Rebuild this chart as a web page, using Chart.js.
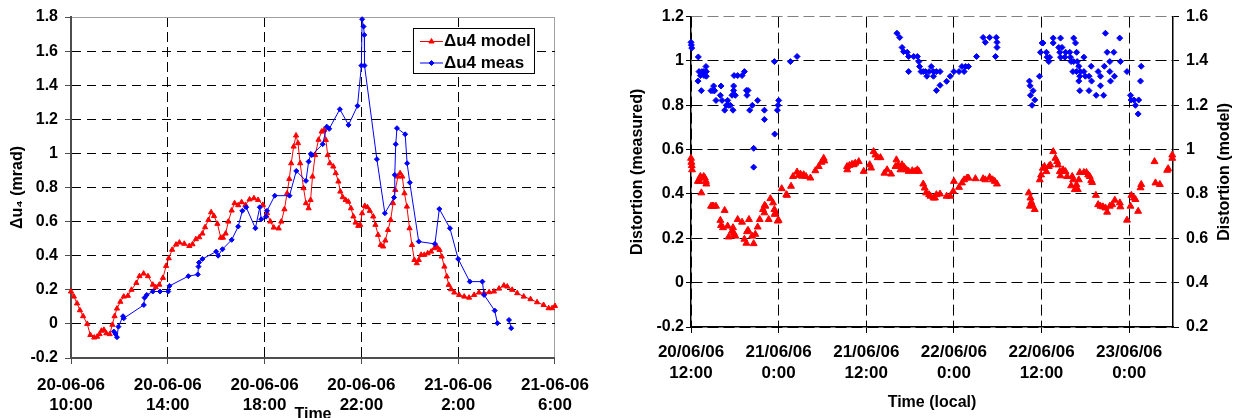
<!DOCTYPE html>
<html>
<head>
<meta charset="utf-8">
<title>Δu4 model / meas and distortion</title>
<script src="https://cdn.jsdelivr.net/npm/chart.js@4.4.0/dist/chart.umd.min.js"></script>
<style>
  html, body { margin: 0; padding: 0; background: #fff; }
  #wrap { position: relative; width: 1237px; height: 418px; overflow: hidden; }
  #leftChart { position: absolute; left: 0; top: 0; }
  #rightChart { position: absolute; left: 615px; top: 0; }
</style>
</head>
<body>
<div id="wrap">
  <canvas id="leftChart" width="600" height="418"></canvas>
  <canvas id="rightChart" width="622" height="418"></canvas>
</div>
<script>
// ---------- Left panel data (hours after 20-06-06 10:00) ----------
const modelTime = [0, 0.12, 0.25, 0.37, 0.5, 0.67, 0.8, 0.96, 1.08, 1.18, 1.26, 1.36, 1.46, 1.6, 1.71, 1.8, 1.9, 2.04, 2.18, 2.35,
  2.5, 2.7, 2.83, 3.0, 3.18, 3.38, 3.5, 3.65, 3.8, 3.93, 4.04, 4.18, 4.34, 4.48, 4.68, 4.89, 5.02, 5.16, 5.3, 5.43,
  5.54, 5.68, 5.79, 5.91, 6.05, 6.19, 6.28, 6.39, 6.5, 6.64, 6.76, 6.91, 7.05, 7.21, 7.38, 7.56, 7.73, 7.93, 8.1, 8.24,
  8.38, 8.58, 8.69, 8.82, 8.93, 9.02, 9.1, 9.2, 9.3, 9.38, 9.47, 9.61, 9.71, 9.82, 9.9, 9.98, 10.09, 10.23, 10.36, 10.46,
  10.53, 10.61, 10.7, 10.84, 10.94, 11.05, 11.13, 11.23, 11.35, 11.46, 11.57, 11.67, 11.76, 11.87, 11.95, 12.03, 12.14, 12.25, 12.35, 12.49,
  12.58, 12.69, 12.8, 12.9, 12.99, 13.1, 13.21, 13.31, 13.4, 13.51, 13.6, 13.69, 13.78, 13.88, 13.99, 14.09, 14.19, 14.29, 14.37, 14.47,
  14.6, 14.74, 14.88, 15.02, 15.13, 15.23, 15.32, 15.43, 15.53, 15.61, 15.71, 15.84, 16.04, 16.25, 16.45, 16.66, 16.86, 17.07, 17.28, 17.48,
  17.69, 17.89, 18.03, 18.23, 18.44, 18.71, 18.99, 19.26, 19.53, 19.74, 19.88, 20.0];
const modelU4 = [0.19, 0.16, 0.12, 0.08, 0.045, 0.0, -0.065, -0.08, -0.075, -0.06, -0.04, -0.035, -0.055, -0.06, -0.005, 0.045, 0.09, 0.13, 0.16, 0.165,
  0.2, 0.24, 0.28, 0.295, 0.28, 0.23, 0.215, 0.23, 0.27, 0.34, 0.385, 0.435, 0.465, 0.477, 0.47, 0.457, 0.467, 0.497, 0.508, 0.53,
  0.567, 0.61, 0.655, 0.633, 0.587, 0.506, 0.506, 0.53, 0.6, 0.665, 0.708, 0.696, 0.714, 0.698, 0.73, 0.737, 0.727, 0.698, 0.65, 0.6,
  0.565, 0.56, 0.6, 0.672, 0.766, 0.85, 0.942, 1.04, 1.105, 1.06, 0.942, 0.796, 0.708, 0.678, 0.727, 0.864, 0.99, 1.08, 1.128, 1.138,
  1.079, 0.99, 0.942, 0.923, 0.884, 0.835, 0.776, 0.743, 0.727, 0.717, 0.678, 0.63, 0.594, 0.575, 0.581, 0.649, 0.692, 0.684, 0.663, 0.63,
  0.581, 0.522, 0.463, 0.454, 0.489, 0.551, 0.61, 0.708, 0.786, 0.864, 0.884, 0.864, 0.766, 0.688, 0.561, 0.463, 0.375, 0.356, 0.375, 0.405,
  0.405, 0.414, 0.424, 0.444, 0.45, 0.434, 0.395, 0.336, 0.278, 0.229, 0.203, 0.184, 0.17, 0.16, 0.154, 0.17, 0.184, 0.18, 0.186, 0.19,
  0.207, 0.225, 0.219, 0.2, 0.18, 0.16, 0.145, 0.127, 0.111, 0.092, 0.092, 0.105];

const measTime = [1.77, 1.84, 1.9, 1.96, 2.15, 2.18, 3.01, 3.04, 3.13, 3.38, 3.68, 4.02, 4.07, 4.85, 5.24, 5.27, 5.29, 5.43, 6.0, 6.08,
  6.26, 6.64, 6.91, 7.08, 7.24, 7.62, 7.8, 7.86, 8.06, 8.1, 8.42, 9.03, 9.31, 9.71, 9.82, 9.91, 9.95, 10.4, 10.57, 10.67,
  11.11, 11.47, 11.84, 12.0, 12.03, 12.09, 12.12, 12.13, 12.64, 12.97, 13.35, 13.38, 13.42, 13.47, 13.81, 13.89, 14.0, 14.37, 15.04, 15.22,
  15.66, 16.0, 16.48, 17.0, 17.07, 17.51, 17.62, 17.85, 18.1, 18.19];
const measU4 = [-0.045, -0.059, -0.078, -0.016, 0.045, 0.033, 0.111, 0.154, 0.17, 0.19, 0.19, 0.19, 0.223, 0.28, 0.29, 0.336, 0.36, 0.381, 0.424, 0.4,
  0.438, 0.493, 0.571, 0.663, 0.684, 0.561, 0.684, 0.614, 0.629, 0.663, 0.752, 0.752, 0.897, 0.839, 0.952, 0.997, 0.99, 1.054, 1.157, 1.144,
  1.259, 1.167, 1.279, 1.515, 1.787, 1.744, 1.695, 1.515, 0.966, 0.649, 0.741, 0.874, 1.054, 1.148, 1.112, 0.942, 0.829, 0.483, 0.469, 0.674,
  0.561, 0.381, 0.248, 0.248, 0.17, 0.078, 0.004, null, 0.023, -0.025];

const leftTickDays = ['20-06-06', '20-06-06', '20-06-06', '20-06-06', '21-06-06', '21-06-06'];
const leftTickTimes = ['10:00', '14:00', '18:00', '22:00', '2:00', '6:00'];

// ---------- Right panel data (hours after 20/06/06 12:00) ----------
const distMeasTime = [0, 0.05, 0.1, 0.96, 1.0, 1.1, 1.28, 1.42, 1.5, 1.74, 1.78, 2.05, 2.1, 2.1, 2.74, 3.01, 3.1, 3.24, 3.42, 4.02,
  4.11, 4.25, 4.61, 4.84, 5.02, 5.16, 5.39, 5.62, 5.75, 5.84, 5.84, 5.9, 6.07, 6.39, 6.99, 7.31, 7.58, 7.67, 7.81, 8.04,
  8.4, 8.58, 8.58, 9.13, 10.05, 10.05, 11.42, 11.46, 11.83, 11.92, 12.01, 13.61, 14.52,
  28.2, 28.58, 28.9, 29.1, 29.6, 29.8, 29.8, 30.5, 31.0, 31.2, 31.3, 31.5, 31.8, 32.1, 32.3, 32.6, 32.9, 33.2, 33.2, 33.6,
  34.1, 33.6, 34.1, 35.0, 35.5, 36.0, 36.7, 37.1, 37.4, 37.6, 38.0, 39.1, 40.0, 40.3, 40.9, 41.8, 41.9, 41.9, 41.7,
  46.34, 46.43, 46.84, 46.48, 47.07, 46.7, 47.72, 47.86, 48.08, 48.2, 48.67, 48.76, 49.1, 48.99, 49.6, 49.6, 50.6, 50.36, 50.8, 50.5,
  51.3, 50.6, 51.2, 51.87, 51.96, 52.4, 52.65, 52.8, 52.05, 52.4, 52.88, 53.1, 52.3, 52.78, 53.3, 53.8, 53.24, 53.8, 54.0, 54.5,
  53.1, 54.8, 54.85, 53.24, 54.5, 55.75, 56.07, 56.07, 55.48, 56.5, 56.6, 56.75, 56.98, 57.35, 57.35, 57.9, 57.98, 57.44, 58.7, 58.8,
  59.7, 60.18, 60.27, 60.64, 60.86, 61.3, 61.23, 61.55, 61.65];
const distMeas = [1.084, 1.072, 1.058, 0.909, 1.018, 0.952, 0.934, 0.866, 0.952, 0.952, 0.934, 0.975, 0.952, 0.931, 0.866, 0.866, 0.887, 0.866, 0.822, 0.845,
  0.887, 0.822, 0.778, 0.8, 0.822, 0.8, 0.8, 0.845, 0.778, 0.867, 0.887, 0.934, 0.845, 0.934, 0.934, 0.952, 0.867, 0.845, 0.867, 0.778,
  0.8, 0.606, 0.521, 0.822, 0.778, 0.736, 0.997, 0.67, 0.778, 0.8, 0.822, 0.997, 1.02,
  1.125, 1.106, 1.061, 1.042, 1.039, 1.02, 0.952, 1.02, 1.02, 0.997, 0.975, 0.952, 0.952, 0.952, 0.931, 0.952, 0.975, 0.952, 0.931, 0.952,
  0.952, 0.867, 0.89, 0.908, 0.931, 0.952, 0.952, 0.975, 0.952, 0.975, 0.975, 1.02, 1.106, 1.084, 1.106, 1.106, 1.084, 1.061, 1.02,
  0.909, 0.888, 0.866, 0.845, 0.824, 0.8, 0.931, 1.039, 1.081, 1.081, 1.039, 1.017, 1.017, 0.997, 1.103, 1.081, 1.103, 1.061, 1.061, 1.039,
  1.039, 1.017, 1.017, 1.039, 1.017, 1.103, 1.081, 1.039, 0.997, 0.997, 0.997, 0.976, 0.952, 0.952, 0.952, 1.017, 0.931, 0.952, 0.931, 0.931,
  0.909, 0.976, 0.909, 0.866, 0.866, 0.952, 0.931, 0.888, 0.845, 0.845, 0.976, 1.125, 1.039, 0.997, 0.952, 1.039, 0.931, 0.909, 1.103, 0.997,
  0.952, 0.845, 0.824, 0.824, 0.8, 0.824, 0.761, 0.909, 0.976];

const distModelTime = [0, 0.05, 0.1, 0.15, 0.96, 1.0, 1.18, 1.28, 1.42, 1.6, 1.74, 1.9, 2.05, 2.1, 2.74, 2.95, 3.1, 3.42, 4.02, 4.11,
  4.38, 4.61, 5.02, 5.16, 5.62, 5.75, 5.84, 5.93, 6.07, 6.39, 6.99, 7.31, 7.58, 7.67, 7.81, 7.94, 8.36, 8.58, 8.81, 9.13,
  9.41, 9.86, 10.09, 10.05, 10.19, 10.64, 10.87, 11.23, 11.42, 11.46, 11.55, 11.87, 12.0, 12.42, 13.05, 13.15, 13.7, 13.97, 14.52, 14.75,
  14.98, 15.2, 15.43, 15.75, 16.35, 17.03, 17.49, 17.85, 18.17, 18.26,
  21.37, 21.4, 21.7, 22.05, 22.28, 22.5, 22.97, 23.65, 24.47, 24.66, 25.0, 25.25, 25.57, 25.94, 26.48, 26.85, 27.4, 28.0, 28.13, 28.36,
  28.68, 28.9, 29.2, 29.5, 29.8, 30.3, 30.7, 31.0, 31.2, 31.8, 32.0, 32.2, 32.6, 32.8, 33.2, 33.4, 33.6, 34.1, 35.0, 35.5,
  35.9, 36.0, 36.7, 37.1, 37.4, 37.8, 38.0, 38.95, 40.0, 40.3, 40.9, 41.3, 41.6, 41.9,
  46.25, 46.48, 46.6, 46.4, 46.7, 47.07, 47.76, 47.94, 48.17, 48.4, 48.67, 48.99, 49.2, 49.6, 49.9, 50.13, 50.27, 50.5, 50.6, 50.95,
  51.28, 51.5, 52.2, 52.05, 52.33, 52.55, 52.78, 52.96, 53.1, 53.24, 53.8, 54.15, 54.38, 54.6, 54.8, 54.93, 55.44, 55.75, 56.07, 56.4,
  56.75, 56.98, 57.35, 57.67, 58.03, 58.72, 58.8, 59.7, 60.18, 60.3, 60.64, 60.86, 61.23, 61.55, 61.65, 63.47, 63.6, 64.2, 65.2, 65.34,
  65.9, 65.9];
const distModel = [0.961, 0.943, 0.928, 0.909, 0.857, 0.86, 0.857, 0.879, 0.805, 0.872, 0.879, 0.872, 0.857, 0.845, 0.745, 0.745, 0.745, 0.745, 0.681, 0.658,
  0.648, 0.726, 0.655, 0.606, 0.633, 0.648, 0.625, 0.617, 0.61, 0.685, 0.673, 0.596, 0.578, 0.63, 0.636, 0.685, 0.61, 0.576, 0.618, 0.651,
  0.685, 0.73, 0.749, 0.715, 0.745, 0.685, 0.779, 0.76, 0.73, 0.708, 0.715, 0.678, 0.681, 0.824, 0.797, 0.794, 0.835, 0.879, 0.899, 0.884,
  0.89, 0.88, 0.887, 0.879, 0.872, 0.905, 0.924, 0.943, 0.961, 0.949,
  0.924, 0.909, 0.929, 0.934, 0.932, 0.939, 0.946, 0.902, 0.932, 0.917, 0.991, 0.976, 0.964, 0.964, 0.894, 0.909, 0.89, 0.924, 0.954, 0.932,
  0.909, 0.932, 0.92, 0.909, 0.902, 0.905, 0.902, 0.909, 0.902, 0.845, 0.827, 0.805, 0.797, 0.79, 0.782, 0.782, 0.797, 0.8, 0.79, 0.79,
  0.812, 0.857, 0.83, 0.85, 0.864, 0.872, 0.872, 0.869, 0.869, 0.864, 0.875, 0.864, 0.857, 0.845,
  0.805, 0.782, 0.763, 0.745, 0.752, 0.73, 0.864, 0.886, 0.916, 0.924, 0.901, 0.924, 0.931, 0.991, 0.961, 0.946, 0.931, 0.901, 0.882, 0.909,
  0.901, 0.879, 0.879, 0.837, 0.864, 0.82, 0.842, 0.82, 0.864, 0.897, 0.897, 0.897, 0.886, 0.879, 0.861, 0.852, 0.794, 0.752, 0.745, 0.742,
  0.737, 0.718, 0.745, 0.752, 0.772, 0.76, 0.742, 0.682, 0.745, 0.794, 0.782, 0.775, 0.722, 0.828, 0.843, 0.946, 0.85, 0.843, 0.907, 0.914,
  0.961, 0.976];

const rightTickDays = ['20/06/06', '21/06/06', '21/06/06', '22/06/06', '22/06/06', '23/06/06'];
const rightTickTimes = ['12:00', '0:00', '12:00', '0:00', '12:00', '0:00'];
const rightAxisTitle = 'Distortion (model)';

// ---------- Common settings ----------
const FONT = 'Arial, "Liberation Sans", Helvetica, sans-serif';
Chart.defaults.font.family = FONT;
Chart.defaults.font.size = 16;
Chart.defaults.font.weight = 'bold';
Chart.defaults.color = '#000';

function toPoints(xs, ys) {
    return xs.map((x, i) => ({ x: x, y: ys[i] }));
}

function fmtTick(v) {
    return String(Math.round(v * 10) / 10);
}

function near(a, b) {
    return Math.abs(a - b) < 1e-6;
}

// Boxed legend drawn inside the plot (Excel style)
const boxLegend = {
    id: 'boxLegend',
    afterDraw(chart) {
        const { ctx, chartArea } = chart;
        const w = 121, h = 45;
        const x0 = chartArea.right - 21 - w;
        const y0 = chartArea.top + 11;
        ctx.save();
        ctx.fillStyle = '#fff';
        ctx.fillRect(x0, y0, w, h);
        ctx.strokeStyle = '#000';
        ctx.lineWidth = 1;
        ctx.strokeRect(x0 + 0.5, y0 + 0.5, w, h);
        chart.data.datasets.forEach((ds, i) => {
            const cy = y0 + 13.5 + i * 21.5;
            ctx.strokeStyle = ds.borderColor;
            ctx.lineWidth = 1;
            ctx.beginPath();
            ctx.moveTo(x0 + 7, cy);
            ctx.lineTo(x0 + 30, cy);
            ctx.stroke();
            ctx.fillStyle = ds.pointBackgroundColor;
            ctx.strokeStyle = ds.pointBorderColor;
            Chart.helpers.drawPoint(ctx, { pointStyle: ds.pointStyle, radius: ds.pointRadius, rotation: 0, borderWidth: 1 }, x0 + 18.5, cy);
            ctx.fillStyle = '#000';
            ctx.font = 'bold 17px ' + FONT;
            ctx.textAlign = 'left';
            ctx.textBaseline = 'middle';
            ctx.fillText(ds.label, x0 + 31, cy);
        });
        ctx.restore();
    }
};

// Right axis title reads bottom-to-top like the left one
const rightTitle = {
    id: 'rightTitle',
    afterDraw(chart) {
        const s = chart.scales.y2;
        const ctx = chart.ctx;
        ctx.save();
        ctx.translate(s.right - 12, (s.top + s.bottom) / 2);
        ctx.rotate(-Math.PI / 2);
        ctx.font = 'bold 16px ' + FONT;
        ctx.fillStyle = '#000';
        ctx.textAlign = 'center';
        ctx.textBaseline = 'middle';
        ctx.fillText(rightAxisTitle, 0, 0);
        ctx.restore();
    }
};

// ---------- Left chart: Δu4 vs time ----------
new Chart(document.getElementById('leftChart'), {
    type: 'line',
    data: {
        datasets: [{
            label: 'Δu4 model',
            data: toPoints(modelTime, modelU4),
            borderColor: '#ff0000',
            backgroundColor: '#ff0000',
            borderWidth: 1,
            pointStyle: 'triangle',
            pointRadius: 3,
            pointBorderWidth: 1,
            pointBackgroundColor: '#ff0000',
            pointBorderColor: '#ff0000',
            order: 2,
            clip: false
        }, {
            label: 'Δu4 meas',
            data: toPoints(measTime, measU4),
            borderColor: '#0000ff',
            backgroundColor: '#0000ff',
            borderWidth: 1,
            pointStyle: 'rectRot',
            pointRadius: 2.5,
            pointBorderWidth: 1,
            pointBackgroundColor: '#0000ff',
            pointBorderColor: '#0000ff',
            spanGaps: false,
            order: 1,
            clip: false
        }]
    },
    options: {
        responsive: false,
        animation: false,
        events: [],
        layout: { padding: { top: 17, right: 42, left: 0, bottom: 0 } },
        plugins: { legend: { display: false }, tooltip: { enabled: false } },
        scales: {
            x: {
                type: 'linear',
                min: 0,
                max: 20,
                ticks: {
                    stepSize: 4,
                    padding: 11,
                    maxRotation: 0,
                    autoSkip: false,
                    font: { size: 17, weight: 'bold', lineHeight: 1.18 },
                    callback: v => [leftTickDays[v / 4], leftTickTimes[v / 4]]
                },
                grid: {
                    color: c => (c.tick && near(c.tick.value, 20)) ? '#a0a0a0' : '#000',
                    tickColor: '#4d4d4d',
                    tickLength: 6
                },
                border: { color: '#4d4d4d', width: 2, dash: c => (c.tick && near(c.tick.value, 20)) ? [] : [10, 5] },
                title: { display: true, text: 'Time', padding: { top: 0, bottom: -6 } },
                afterFit: s => { s.height = 60; }
            },
            y: {
                min: -0.2,
                max: 1.8,
                ticks: { stepSize: 0.2, padding: 7, callback: fmtTick },
                grid: {
                    color: c => (c.tick && near(c.tick.value, 1.8)) ? '#a0a0a0' : '#000',
                    tickColor: '#4d4d4d',
                    tickLength: 6
                },
                border: { color: '#4d4d4d', width: 2, dash: c => (c.tick && near(c.tick.value, 1.8)) ? [] : [9, 6] },
                title: { display: true, text: 'Δu₄ (mrad)', padding: { top: 8, bottom: 0 } },
                afterFit: s => { s.width = 71; }
            }
        }
    },
    plugins: [boxLegend]
});

// ---------- Right chart: distortion measured vs model ----------
new Chart(document.getElementById('rightChart'), {
    type: 'scatter',
    data: {
        datasets: [{
            label: 'Distortion (measured)',
            data: toPoints(distMeasTime, distMeas),
            yAxisID: 'y',
            pointStyle: 'rectRot',
            pointRadius: 3,
            pointBorderWidth: 1,
            pointBackgroundColor: '#0000ff',
            pointBorderColor: '#0000ff',
            clip: false
        }, {
            label: 'Distortion (model)',
            data: toPoints(distModelTime, distModel),
            yAxisID: 'y2',
            pointStyle: 'triangle',
            pointRadius: 4,
            pointBorderWidth: 1,
            pointBackgroundColor: '#ff0000',
            pointBorderColor: '#ff0000',
            clip: false
        }]
    },
    options: {
        responsive: false,
        animation: false,
        events: [],
        layout: { padding: { top: 14, right: 0, left: 0, bottom: 0 } },
        plugins: { legend: { display: false }, tooltip: { enabled: false } },
        scales: {
            x: {
                type: 'linear',
                min: 0,
                max: 66,
                afterBuildTicks: s => { s.ticks = s.ticks.filter(t => near(t.value % 12, 0)); },
                ticks: {
                    stepSize: 12,
                    padding: 9,
                    maxRotation: 0,
                    autoSkip: false,
                    font: { size: 17, weight: 'bold', lineHeight: 1.24 },
                    callback: v => [rightTickDays[Math.round(v / 12)], rightTickTimes[Math.round(v / 12)]]
                },
                grid: { color: '#000', tickColor: '#000', tickLength: 6 },
                border: { color: '#000', width: 1.5, dash: [11, 5] },
                title: { display: true, text: 'Time (local)', padding: { top: 0, bottom: 6 } },
                afterFit: s => { s.height = 91; }
            },
            y: {
                position: 'left',
                min: -0.2,
                max: 1.2,
                ticks: { stepSize: 0.2, padding: 2, callback: fmtTick },
                grid: {
                    color: c => (c.tick && near(c.tick.value, 1.2)) ? '#808080' : '#000',
                    tickColor: '#000',
                    tickLength: 5
                },
                border: { color: '#000', width: 1.5, dash: [11, 5] },
                title: { display: true, text: 'Distortion (measured)', padding: { top: 13, bottom: 0 } },
                afterFit: s => { s.width = 76; }
            },
            y2: {
                position: 'right',
                min: 0.2,
                max: 1.6,
                ticks: { stepSize: 0.2, padding: 7, callback: fmtTick },
                grid: { drawOnChartArea: false, color: '#000', tickColor: '#000', tickLength: 6 },
                border: { color: '#000', width: 1.5 },
                afterFit: s => { s.width = 64; }
            }
        }
    },
    plugins: [rightTitle]
});
</script>
</body>
</html>
